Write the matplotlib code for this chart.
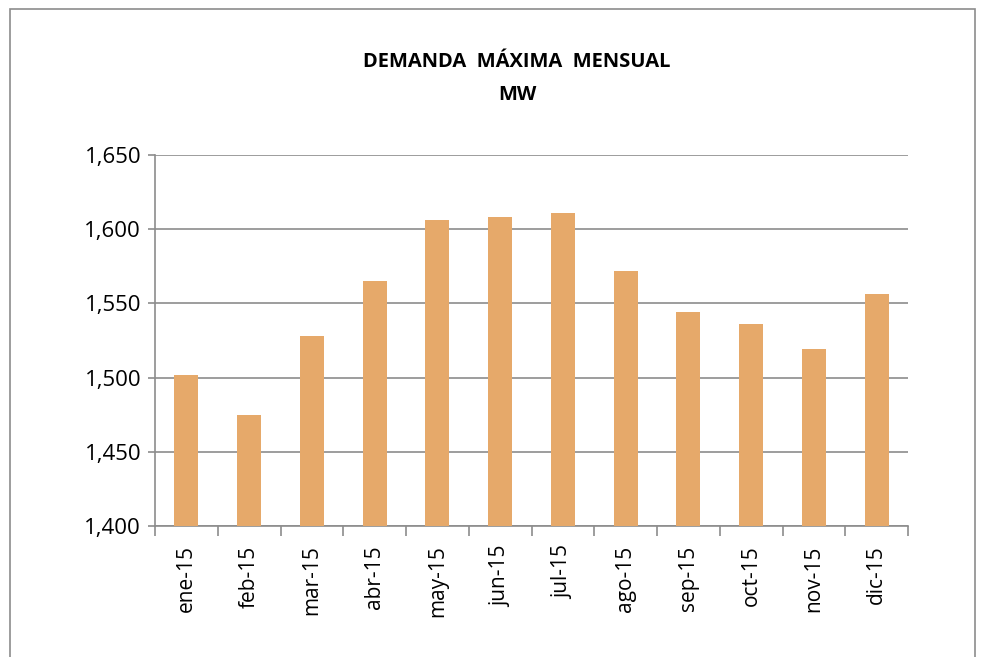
import numpy as np
import matplotlib.pyplot as plt
from matplotlib.patches import Rectangle
from matplotlib.ticker import FuncFormatter, FixedLocator

meses = ['ene-15', 'feb-15', 'mar-15', 'abr-15', 'may-15', 'jun-15',
         'jul-15', 'ago-15', 'sep-15', 'oct-15', 'nov-15', 'dic-15']
demanda = [1502, 1475, 1528, 1565, 1606, 1608, 1611, 1572, 1544, 1536, 1519, 1556]
yticks = [1400, 1450, 1500, 1550, 1600, 1650]

plt.rcParams['font.family'] = ['Open Sans', 'DejaVu Sans']

fig = plt.figure(figsize=(9.84, 6.57), dpi=100)
ax = fig.add_axes([155/984, 1-526/657, (908-155)/984, (526-155)/657])

# outer chart frame
fig.patches.append(Rectangle((10/984, -0.05), 965/984, 1-9/657+0.05,
                             transform=fig.transFigure, fill=False,
                             edgecolor='#8c8c8c', linewidth=1.2))

x = np.arange(len(meses))
ax.bar(x, demanda, width=0.38, color='#e6a96a', zorder=3)

ax.set_xlim(-0.5, len(meses)-0.5)
ax.set_ylim(1400, 1650)
ax.set_yticks(yticks)
ax.yaxis.set_major_formatter(FuncFormatter(lambda v, p: '{:,.0f}'.format(v)))
ax.grid(axis='y', color='#8c8c8c', linewidth=1.2, zorder=0)

ax.set_xticks(x)
ax.set_xticklabels(meses, rotation=90)
ax.xaxis.set_minor_locator(FixedLocator(np.arange(-0.5, len(meses), 1)))
ax.tick_params(axis='x', which='major', length=0, labelsize=15, pad=14)
ax.tick_params(axis='x', which='minor', length=7, color='#8c8c8c', width=1.2)
ax.tick_params(axis='y', length=5, color='#8c8c8c', width=1.2, labelsize=16, pad=5)

for s in ['top', 'right']:
    ax.spines[s].set_visible(False)
for s in ['left', 'bottom']:
    ax.spines[s].set_color('#8c8c8c')
    ax.spines[s].set_linewidth(1.2)

fig.text(517/984, 1-62/657, 'DEMANDA  MÁXIMA  MENSUAL', ha='center', va='center',
         fontsize=14.5, fontweight='bold')
fig.text(517/984, 1-95/657, 'MW', ha='center', va='center',
         fontsize=14.5, fontweight='bold')

fig.savefig('out.png', dpi=100)
